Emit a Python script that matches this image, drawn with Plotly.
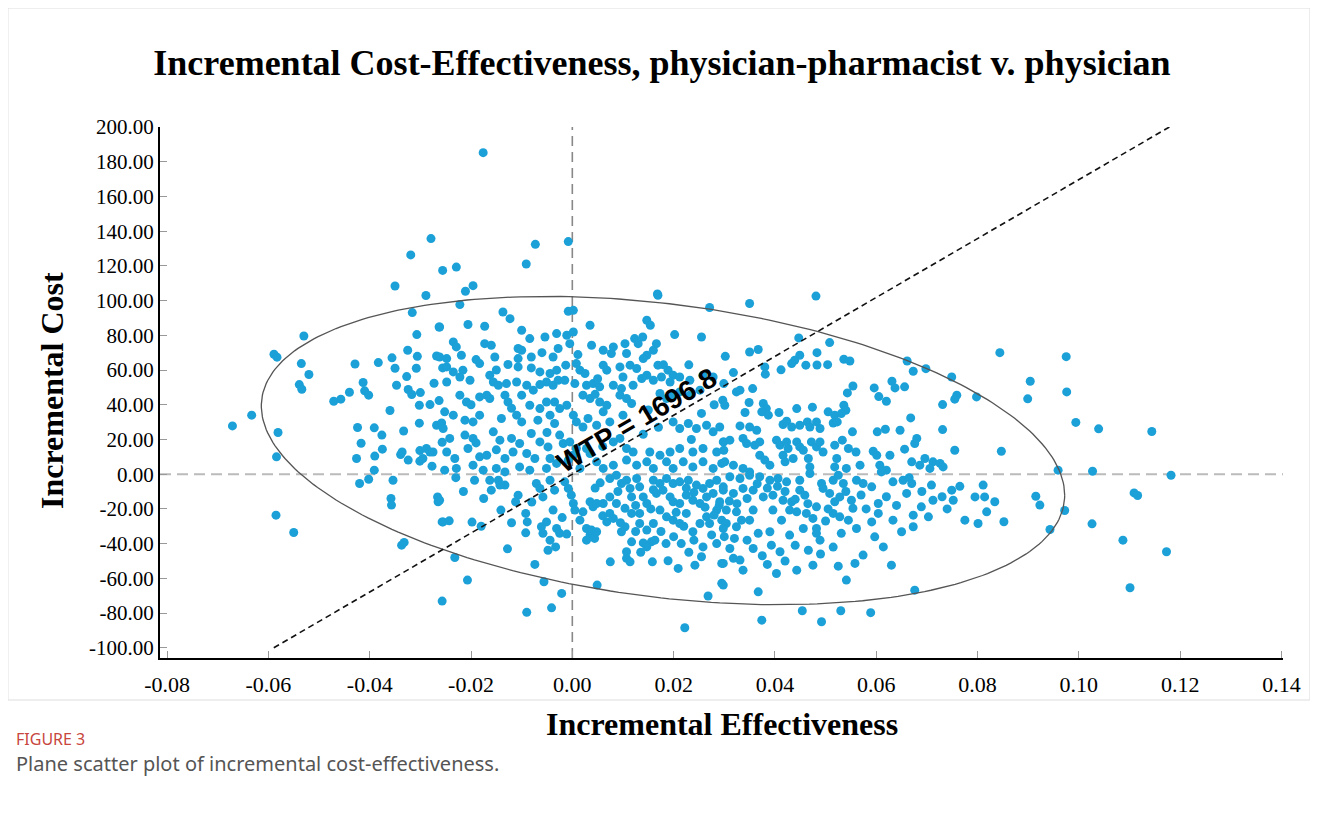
import numpy as np
import plotly.graph_objects as go

# ---------------- data ----------------
eff_top = [-0.0279, -0.0319, -0.0256, -0.0350, -0.0289, -0.0176, -0.0073, -0.0008, -0.0091, -0.0229,
           -0.0196, -0.0211, 0.0168, 0.0481, 0.0350]
cost_top = [135.7, 126.3, 117.4, 108.4, 102.9, 185.2, 132.4, 134.0, 121.1, 119.3,
            108.6, 105.4, 103.8, 102.6, 98.3]

eff_left = [-0.0316, -0.0263, -0.0530, -0.0307, -0.0589, -0.0583, -0.0325, -0.0306, -0.0268, -0.0535,
            -0.0429, -0.0383, -0.0356, -0.0350, -0.0308, -0.0256, -0.0520, -0.0327, -0.0413, -0.0539,
            -0.0534, -0.0347, -0.0273, -0.0440, -0.0410, -0.0402, -0.0324, -0.0317, -0.0300, -0.0471,
            -0.0457, -0.0302, -0.0281, -0.0263, -0.0360, -0.0633, -0.0671, -0.0302, -0.0268, -0.0258,
            -0.0424, -0.0391, -0.0376, -0.0333, -0.0581, -0.0417, -0.0257, -0.0375, -0.0339, -0.0336,
            -0.0301, -0.0288, -0.0281, -0.0275, -0.0390, -0.0324, -0.0426, -0.0584, -0.0301, -0.0295,
            -0.0277, -0.0391,
            -0.0420, -0.0402, -0.0354, -0.0358, -0.0357, -0.0266, -0.0265, -0.0257, -0.0585, -0.0550,
            -0.0337, -0.0332, -0.0257]
cost_left = [93.1, 84.8, 79.6, 80.4, 69.1, 67.4, 71.4, 67.9, 68.1, 63.7,
             63.5, 64.3, 67.0, 61.0, 61.0, 61.2, 57.4, 56.2, 52.8, 51.6,
             48.9, 51.2, 52.4, 47.2, 48.0, 45.5, 48.8, 45.9, 47.0, 42.0,
             43.2, 39.7, 40.1, 42.4, 36.7, 34.0, 27.8, 29.4, 28.2, 29.5,
             26.9, 26.7, 22.5, 24.9, 24.0, 17.8, 18.4, 14.4, 11.3, 12.8,
             13.6, 14.8, 12.8, 12.8, 10.4, 8.1, 9.0, 10.0, 7.5, 9.0,
             4.6, 2.3,
             -5.4, -2.9, -3.5, -14.0, -17.8, -13.1, -15.9, -27.5, -23.6, -33.6,
             -40.9, -39.3, -73.1]

eff_right = [0.0959, 0.1027, 0.1182, 0.0915, 0.0923, 0.1109, 0.1116, 0.0972, 0.0852, 0.0943,
             0.1026, 0.1087, 0.1173, 0.1101, 0.0844, 0.0975, 0.0904, 0.0899, 0.0976, 0.0994,
             0.1039, 0.1144, 0.0847]
cost_right = [2.3, 1.7, -0.6, -12.7, -17.8, -10.8, -12.3, -20.9, -27.4, -31.9,
              -28.6, -38.0, -44.7, -65.4, 70.0, 67.7, 53.5, 43.4, 47.4, 29.8,
              26.1, 24.6, 13.2]

eff_upper_mid = [-0.0222, -0.0137, -0.0123, -0.0008, 0.0002, 0.0169, 0.0271, -0.0262, -0.0206, -0.0173,
                 -0.0100, -0.0084, -0.0054, -0.0031, -0.0011, 0.0002, 0.0035, 0.0147, 0.0154, 0.0123,
                 0.0139, 0.0130, 0.0202, 0.0255, -0.0235, -0.0229, -0.0173, -0.0160, -0.0107, -0.0100,
                 -0.0028, -0.0005, 0.0038, 0.0081, 0.0104, 0.0166, 0.0160, 0.0147, -0.0262, -0.0248,
                 -0.0219, -0.0153, -0.0107, -0.0081, -0.0038, 0.0011, 0.0061, 0.0077, 0.0107, 0.0140,
                 -0.0248, -0.0235, -0.0216, -0.0222, -0.0183, -0.0127, -0.0107, -0.0081, -0.0064, -0.0044,
                 -0.0031, -0.0013, 0.0008, 0.0015, 0.0025, 0.0061, 0.0068, 0.0094, 0.0114, 0.0127,
                 0.0169, 0.0189, 0.0199, -0.0248, -0.0202, -0.0163, -0.0156, -0.0146, -0.0130, -0.0110,
                 -0.0090, -0.0077, -0.0064, -0.0051, -0.0038, -0.0028, -0.0015, 0.0005, 0.0028, 0.0041,
                 0.0054, 0.0081, 0.0097, 0.0120, 0.0137, 0.0147, 0.0160, 0.0176, 0.0193, 0.0212,
                 0.0232, 0.0258, 0.0278]
cost_upper_mid = [97.7, 93.4, 89.6, 93.8, 94.4, 103.1, 96.0, 84.8, 86.2, 85.2,
                  82.9, 78.1, 79.0, 81.0, 80.0, 81.9, 85.8, 88.7, 85.8, 78.1,
                  79.0, 75.2, 80.4, 79.0, 76.2, 73.3, 75.2, 74.3, 72.4, 71.4,
                  72.4, 75.2, 74.3, 73.3, 75.2, 75.2, 71.4, 68.5, 67.5, 66.6,
                  68.5, 67.5, 66.6, 67.5, 67.5, 68.9, 71.4, 69.5, 69.5, 66.6,
                  61.8, 58.9, 59.9, 56.0, 63.7, 63.2, 61.8, 61.2, 58.9, 58.0,
                  59.9, 62.8, 63.7, 59.9, 58.0, 62.8, 59.9, 61.8, 62.8, 60.9,
                  62.8, 59.9, 57.0, 53.1, 54.1, 57.0, 53.1, 51.2, 52.2, 53.1,
                  51.2, 48.4, 51.6, 53.1, 51.2, 54.1, 54.1, 52.2, 51.2, 52.2,
                  50.3, 51.2, 49.3, 51.2, 55.1, 57.0, 54.1, 56.0, 53.1, 56.0,
                  54.1, 57.0, 56.0]

eff_center = [-0.0222, -0.0209, -0.0183, -0.0169, -0.0163, -0.0133, -0.0127, -0.0100, -0.0084, -0.0064,
              -0.0051, -0.0035, -0.0025, -0.0011, 0.0021, 0.0035, 0.0054, 0.0068, 0.0094, 0.0107,
              0.0117, 0.0173, 0.0186, 0.0199, 0.0212, 0.0232, 0.0252, -0.0252, -0.0235, -0.0212,
              -0.0196, -0.0183, -0.0140, -0.0110, -0.0100, -0.0068, -0.0044, -0.0035, 0.0002, 0.0008,
              0.0021, 0.0031, 0.0048, 0.0061, 0.0074, 0.0100, 0.0199, 0.0212, 0.0229, 0.0245,
              0.0265, 0.0278, 0.0291, -0.0255, -0.0242, -0.0212, -0.0196, -0.0156, -0.0143, -0.0120,
              -0.0104, -0.0081, -0.0064, -0.0048, -0.0025, -0.0018, -0.0005, 0.0008, 0.0028, 0.0035,
              0.0081, 0.0094, 0.0107, 0.0120, 0.0153, 0.0173, 0.0193, 0.0212, 0.0238, 0.0258,
              0.0285, 0.0298, -0.0248, -0.0232, -0.0206, -0.0183, -0.0169, -0.0133, -0.0117, -0.0090,
              -0.0074, -0.0044, -0.0031, -0.0008, 0.0002, -0.0252, -0.0229, -0.0196, -0.0176, -0.0150,
              -0.0133, -0.0104, -0.0084, -0.0051, 0.0015, 0.0048, 0.0061, 0.0081, 0.0107, 0.0127,
              0.0147, 0.0160, 0.0186, 0.0199, 0.0219, 0.0238, 0.0258, 0.0278, 0.0295]
cost_center = [45.5, 41.6, 44.5, 45.5, 43.6, 45.5, 41.6, 45.5, 39.7, 37.8,
               41.6, 41.6, 37.8, 39.7, 45.5, 43.6, 41.6, 39.7, 45.5, 43.6,
               40.7, 46.5, 43.6, 45.5, 47.4, 45.5, 48.4, 35.9, 34.0, 31.1,
               30.1, 34.0, 32.1, 34.0, 30.1, 31.1, 34.0, 29.2, 34.0, 30.1,
               27.2, 32.1, 28.2, 35.9, 30.1, 34.0, 30.1, 26.3, 29.2, 26.3,
               28.2, 24.4, 27.2, 26.3, 20.6, 22.5, 20.6, 24.4, 19.6, 20.6,
               17.7, 23.4, 18.6, 15.7, 22.5, 17.7, 18.6, 14.8, 14.8, 11.9,
               18.6, 20.6, 14.8, 12.8, 12.8, 10.9, 12.8, 14.8, 12.8, 14.8,
               12.8, 18.6, 12.8, 9.0, 14.8, 10.0, 10.9, 9.0, 12.8, 11.9,
               9.0, 9.0, 6.2, 8.1, 10.9, 2.3, 3.3, 5.2, 2.3, 3.3,
               1.3, 4.2, 2.3, 3.3, 3.3, 7.1, 3.3, 5.2, 8.1, 5.2,
               7.1, 3.3, 7.1, 3.3, 7.1, 4.2, 7.1, 3.3, 6.2]

eff_upper_right = [0.0447, 0.0508, 0.0302, 0.0350, 0.0367, 0.0449, 0.0439, 0.0433, 0.0483, 0.0461,
                   0.0483, 0.0504, 0.0536, 0.0548, 0.0380, 0.0381, 0.0412, 0.0318, 0.0661, 0.0673,
                   0.0698, 0.0749, 0.0596, 0.0631, 0.0637, 0.0656, 0.0554, 0.0543, 0.0605, 0.0620,
                   0.0299, 0.0324, 0.0331, 0.0356, 0.0297, 0.0301, 0.0759, 0.0755, 0.0798, 0.0731,
                   0.0349, 0.0377, 0.0383, 0.0374, 0.0387, 0.0408, 0.0443, 0.0474, 0.0505, 0.0518,
                   0.0536, 0.0540, 0.0531, 0.0341, 0.0668, 0.0731, 0.0331, 0.0350, 0.0364, 0.0416,
                   0.0423, 0.0433, 0.0449, 0.0464, 0.0469, 0.0482, 0.0489, 0.0515, 0.0523, 0.0553,
                   0.0602, 0.0618, 0.0647, 0.0680, 0.0676, 0.0299, 0.0311, 0.0337, 0.0344, 0.0370,
                   0.0360, 0.0403, 0.0410, 0.0423, 0.0426, 0.0443, 0.0449, 0.0456, 0.0472, 0.0482,
                   0.0489, 0.0495, 0.0518, 0.0533, 0.0545, 0.0560, 0.0568, 0.0594, 0.0601, 0.0627,
                   0.0656, 0.0670, 0.0696, 0.0712, 0.0726, 0.0755, 0.0299, 0.0301, 0.0318, 0.0337,
                   0.0350, 0.0370, 0.0380, 0.0390, 0.0416, 0.0420, 0.0436, 0.0466, 0.0469, 0.0522,
                   0.0518, 0.0541, 0.0607, 0.0620, 0.0686, 0.0706, 0.0732]
cost_upper_right = [78.5, 75.8, 67.9, 70.4, 71.8, 68.5, 65.6, 63.7, 70.0, 62.8,
                    62.9, 63.1, 66.2, 65.2, 61.8, 57.6, 60.1, 58.5, 65.2, 59.3,
                    60.8, 56.0, 49.7, 53.5, 49.7, 50.3, 50.8, 46.8, 44.7, 42.0,
                    52.2, 47.4, 48.4, 49.3, 42.6, 39.7, 45.5, 43.2, 44.5, 40.1,
                    41.3, 40.7, 37.8, 35.9, 34.0, 35.5, 37.8, 38.6, 35.9, 34.0,
                    39.7, 36.8, 34.9, 35.5, 32.4, 25.7, 27.8, 27.2, 25.3, 28.6,
                    30.5, 27.2, 28.2, 30.1, 27.2, 30.1, 26.3, 29.5, 30.1, 24.4,
                    24.4, 25.9, 25.3, 20.6, 17.7, 18.6, 19.6, 20.6, 17.7, 18.6,
                    16.7, 19.6, 16.7, 18.6, 14.8, 18.6, 15.7, 13.8, 18.6, 15.7,
                    18.6, 12.8, 16.7, 19.6, 14.8, 12.8, 5.2, 13.2, 10.9, 10.9,
                    14.4, 7.1, 9.0, 7.1, 6.2, 13.8, 13.8, 7.1, 5.2, 3.3,
                    1.3, 10.9, 8.1, 5.2, 10.9, 7.1, 9.0, 9.0, 4.2, 9.0,
                    4.2, 3.3, 5.2, 2.3, 5.2, 3.3, 4.2]

eff_lower_mid = [-0.0262, -0.0255, -0.0243, -0.0198, -0.0232, -0.0207, -0.0193, -0.0163, -0.0146, -0.0133,
                 -0.0160, -0.0143, -0.0107, -0.0112, -0.0141, -0.0128, -0.0092, -0.0089, -0.0092, -0.0074,
                 -0.0071, -0.0064, -0.0058, -0.0044, -0.0035, -0.0038, -0.0051, -0.0061, -0.0058, -0.0044,
                 -0.0048, -0.0031, -0.0025, -0.0011, -0.0033, -0.0056, -0.0021, -0.0041, -0.0090, -0.0015,
                 -0.0008, -0.0002, 0.0002, 0.0005, 0.0015, 0.0021, 0.0028, 0.0035, 0.0044, 0.0038,
                 0.0048, 0.0028, 0.0049, 0.0035, 0.0041, 0.0048, 0.0068, 0.0074, 0.0081, 0.0075,
                 0.0097, 0.0104, 0.0107, 0.0114, 0.0107, 0.0117, 0.0140, 0.0156, 0.0147, 0.0163,
                 0.0158, 0.0189, 0.0209, 0.0222, 0.0074, 0.0087, 0.0097, 0.0107, 0.0114, 0.0117,
                 0.0127, 0.0133, 0.0140, 0.0147, 0.0133, 0.0117, 0.0104, 0.0087, 0.0074, 0.0061,
                 0.0160, 0.0173, 0.0186, 0.0199, 0.0212, 0.0229, 0.0245, 0.0258, 0.0271, 0.0285,
                 0.0298, 0.0166, 0.0179, 0.0193, 0.0199, 0.0212, 0.0225, 0.0238, 0.0252, 0.0265,
                 0.0278, 0.0291, 0.0173, 0.0186, 0.0199, 0.0212, 0.0225, 0.0238, 0.0252, 0.0265,
                 0.0271, 0.0285, 0.0295, 0.0258, 0.0255, 0.0242, 0.0268, 0.0295, 0.0295, 0.0147,
                 0.0160, 0.0133]
cost_lower_mid = [-15.0, -27.5, -26.9, -27.6, -48.0, -61.0, -3.5, -3.5, -3.5, -6.3,
                  -9.2, -6.3, -12.1, -15.9, -20.7, -43.0, -22.6, -27.5, -33.8, -52.0,
                  -5.4, -8.2, -13.1, -3.5, -9.2, -20.7, -27.5, -30.3, -34.1, -38.0,
                  -43.8, -31.3, -34.1, -34.5, -41.9, -62.0, -68.7, -77.0, -79.6, -4.4,
                  -8.2, -12.1, -16.9, -20.7, -26.5, -21.7, -31.3, -35.1, -37.0, -32.2,
                  -33.2, -38.0, -63.9, -15.9, -18.8, -16.9, -27.5, -22.6, -25.5, -50.5,
                  -33.2, -30.3, -48.5, -50.5, -44.7, -39.0, -39.6, -39.0, -41.9, -38.0,
                  -50.5, -49.9, -54.3, -88.5, -2.5, -0.6, -5.4, -3.5, -8.2, -13.1,
                  -2.5, -7.3, -13.1, -16.9, -22.6, -22.6, -19.7, -16.9, -13.1, -16.9,
                  -3.5, -5.4, -2.5, -5.4, -4.4, -3.5, -6.3, -8.2, -5.4, -3.5,
                  -7.3, -11.1, -9.2, -13.1, -15.9, -16.9, -12.1, -15.0, -16.9, -13.1,
                  -11.1, -15.9, -20.7, -24.6, -26.5, -28.4, -22.6, -33.2, -28.4, -24.6,
                  -28.4, -20.7, -26.5, -41.9, -47.6, -52.4, -70.2, -62.9, -51.4, -32.2,
                  -28.4, -28.4]

eff_lower_right = [0.0311, 0.0331, 0.0350, 0.0370, 0.0390, 0.0406, 0.0423, 0.0449, 0.0469, 0.0492,
                   0.0515, 0.0525, 0.0535, 0.0561, 0.0574, 0.0591, 0.0610, 0.0633, 0.0653, 0.0670,
                   0.0660, 0.0709, 0.0749, 0.0752, 0.0811, 0.0795, 0.0814, 0.0834, 0.0298, 0.0318,
                   0.0337, 0.0357, 0.0377, 0.0396, 0.0416, 0.0433, 0.0449, 0.0459, 0.0482, 0.0495,
                   0.0508, 0.0518, 0.0528, 0.0551, 0.0554, 0.0604, 0.0604, 0.0633, 0.0650, 0.0673,
                   0.0689, 0.0703, 0.0712, 0.0673, 0.0775, 0.0801, 0.0818, 0.0304, 0.0324, 0.0304,
                   0.0324, 0.0350, 0.0357, 0.0396, 0.0413, 0.0429, 0.0443, 0.0462, 0.0482, 0.0482,
                   0.0489, 0.0456, 0.0429, 0.0390, 0.0367, 0.0334, 0.0298, 0.0515, 0.0528, 0.0545,
                   0.0561, 0.0531, 0.0591, 0.0597, 0.0614, 0.0630, 0.0574, 0.0558, 0.0541, 0.0466,
                   0.0475, 0.0443, 0.0403, 0.0393, 0.0410, 0.0357, 0.0311, 0.0318, 0.0331, 0.0337,
                   0.0298, 0.0298, 0.0367, 0.0374, 0.0676, 0.0454, 0.0492, 0.0530, 0.0589]
cost_lower_right = [-1.5, -2.5, -0.6, -1.5, -3.5, -2.5, -4.4, -3.5, 0.4, -5.4,
                    -3.5, -0.6, -5.4, -3.5, -5.4, -7.3, 1.3, -4.4, -3.5, -5.4,
                    -11.1, -6.3, -9.2, -15.0, -6.3, -13.1, -13.1, -15.9, -9.2, -11.1,
                    -8.2, -9.2, -13.1, -12.1, -15.0, -15.9, -9.2, -12.1, -18.8, -8.2,
                    -11.1, -15.9, -13.1, -15.0, -19.7, -16.9, -22.6, -26.5, -33.2, -23.6,
                    -18.8, -24.6, -15.0, -30.3, -26.5, -28.4, -21.7, -20.7, -21.7, -28.4,
                    -30.3, -26.5, -20.7, -20.7, -26.5, -20.7, -21.7, -22.6, -31.3, -34.1,
                    -38.0, -31.3, -35.1, -33.2, -34.1, -26.5, -31.3, -22.6, -24.6, -26.5,
                    -31.3, -34.1, -27.5, -36.1, -41.9, -52.4, -46.6, -51.4, -61.0, -43.8,
                    -52.4, -55.3, -57.2, -40.9, -44.7, -42.8, -42.8, -48.5, -49.5, -55.3,
                    -51.4, -63.9, -67.8, -84.1, -66.8, -78.7, -85.0, -78.7, -79.8]

# overlapping dots in the densest zones (estimated)
eff_dense = [0.0225, 0.0240, 0.0262, 0.0280, 0.0290, 0.0310, 0.0325, 0.0345, 0.0365, 0.0385,
             0.0405, 0.0420, 0.0440, 0.0465, 0.0475, 0.0500, 0.0505, 0.0540, 0.0570, 0.0580,
             0.0620, 0.0640, 0.0665, 0.0690, 0.0730, 0.0740, 0.0765,
             0.0055, 0.0045, 0.0060, 0.0090, 0.0095, 0.0125, 0.0135, 0.0175, 0.0185, 0.0200,
             0.0215, 0.0230, 0.0220, 0.0240, 0.0275, 0.0285, 0.0300, 0.0320, 0.0345, 0.0375,
             0.0385, 0.0420, 0.0440, 0.0490, 0.0515, 0.0525, 0.0205, 0.0155, 0.0160, 0.0125,
             -0.0020, -0.0080, -0.0120, -0.0175, -0.0215, -0.0230, -0.0180,
             -0.0190, -0.0150, -0.0060, 0.0050, 0.0100, 0.0180, 0.0230, -0.0200, -0.0120, 0.0045,
             0.0150, 0.0170, 0.0235, 0.0255, 0.0280, -0.0050, -0.0150, -0.0190, 0.0060, 0.0140]
cost_dense = [-8.0, -10.5, -19.0, -23.5, -18.0, -15.5, -17.0, -14.0, -5.5, -8.0,
              -7.0, -10.0, -14.5, -17.0, -25.5, -27.0, -20.0, -10.0, -12.0, -20.0,
              -13.0, -18.0, -2.0, -10.0, -13.0, -20.0, -7.0,
              -5.0, -8.0, -24.0, -10.0, -28.0, -33.0, -45.0, -33.0, -40.0, -36.0,
              -40.0, -45.0, -30.0, -38.0, -35.0, -40.0, -36.0, -37.0, -38.0, -47.0,
              -52.0, -50.0, -41.0, -46.0, -42.0, -53.0, -22.0, -20.0, -9.0, -18.0,
              -25.0, -16.0, -28.0, -14.0, -10.0, -2.0, -30.0,
              66.0, 60.0, 70.0, 55.0, 56.0, 63.0, 63.0, 40.0, 38.0, 46.0,
              37.0, 27.0, 20.0, 35.0, 40.0, 24.0, 14.0, 18.0, 16.0, 23.0]

# confidence ellipse parameters (centre, x half-width, y cos/sin loadings)
ell_cx, ell_cy = 0.0179, 13.6
ell_ax = 0.0793
ell_ycos, ell_ysin = -25.7, 85.0

wtp = 1696.8
cost_range = [-100, 200]
x_ticks = [-0.08, -0.06, -0.04, -0.02, 0.0, 0.02, 0.04, 0.06, 0.08, 0.10, 0.12, 0.14]
y_ticks = [-100, -80, -60, -40, -20, 0, 20, 40, 60, 80, 100, 120, 140, 160, 180, 200]

eff = (eff_top + eff_left + eff_right + eff_upper_mid + eff_center + eff_upper_right
       + eff_lower_mid + eff_lower_right + eff_dense)
cost = (cost_top + cost_left + cost_right + cost_upper_mid + cost_center + cost_upper_right
        + cost_lower_mid + cost_lower_right + cost_dense)

# ---------------- figure ----------------
SERIF = "Liberation Serif, Times New Roman, serif"
fig = go.Figure()

fig.add_trace(go.Scatter(x=eff, y=cost, mode="markers",
                         marker=dict(color="#1ba0d7", size=9, line=dict(width=0)),
                         hoverinfo="x+y"))

t = np.linspace(0, 2 * np.pi, 300)
fig.add_trace(go.Scatter(x=ell_cx + ell_ax * np.cos(t),
                         y=ell_cy + ell_ycos * np.cos(t) + ell_ysin * np.sin(t),
                         mode="lines", line=dict(color="#555555", width=1.3), hoverinfo="skip"))

fig.add_trace(go.Scatter(x=[c / wtp for c in cost_range], y=cost_range, mode="lines",
                         line=dict(color="#111111", width=1.6, dash="6px,4px"), hoverinfo="skip"))

xr = [-0.0814, 0.1403]
yr = [-105.9, 200]

fig.add_shape(type="line", x0=0, x1=0, y0=yr[0], y1=yr[1], xref="x", yref="y",
              line=dict(color="#888888", width=1.6, dash="10px,6px"), layer="below")
fig.add_shape(type="line", x0=xr[0], x1=xr[1], y0=0, y1=0, xref="x", yref="y",
              line=dict(color="#bbbbbb", width=2, dash="11px,6px"), layer="below")

# outer frame
fig.add_shape(type="rect", xref="paper", yref="paper", x0=-0.1354, x1=1.024, y0=-0.0791, y1=1.2241,
              line=dict(color="#dddddd", width=1), layer="below")

fig.add_annotation(x=0.0126, y=31.1, xref="x", yref="y", text="<b>WTP = 1696.8</b>",
                   textangle=-30.2, showarrow=False, xanchor="center", yanchor="middle",
                   font=dict(family="Liberation Sans, Arial, sans-serif", size=28, color="black"))

fig.add_annotation(x=0.5, y=-0.1243, xref="paper", yref="paper", text="<b>Incremental Effectiveness</b>",
                   showarrow=False, xanchor="center", yanchor="middle",
                   font=dict(family=SERIF, size=32, color="black"))
fig.add_annotation(x=-0.0962, y=0.5047, xref="paper", yref="paper", text="<b>Incremental Cost</b>",
                   textangle=-90, showarrow=False, xanchor="center", yanchor="middle",
                   font=dict(family=SERIF, size=32, color="black"))

fig.add_annotation(x=-0.129, y=-0.1525, xref="paper", yref="paper", text="FIGURE 3",
                   showarrow=False, xanchor="left", yanchor="middle", borderpad=0,
                   font=dict(family="Noto Sans, sans-serif", size=16, color="#c8463d"))
fig.add_annotation(x=-0.129, y=-0.1996, xref="paper", yref="paper",
                   text="Plane scatter plot of incremental cost-effectiveness.",
                   showarrow=False, xanchor="left", yanchor="middle", borderpad=0,
                   font=dict(family="Noto Sans, sans-serif", size=20, color="#555555"))

fig.update_layout(
    width=1310, height=831,
    margin=dict(l=152, r=35, t=119, b=181),
    paper_bgcolor="white", plot_bgcolor="white",
    showlegend=False,
    title=dict(text="<b>Incremental Cost-Effectiveness, physician-pharmacist v. physician</b>",
               x=654 / 1310, xref="container", y=1 - 54 / 831, yref="container",
               xanchor="center", yanchor="middle",
               font=dict(family=SERIF, size=36, color="black")),
)
fig.update_xaxes(range=xr, tickvals=x_ticks, ticktext=[f"{v:.2f}" for v in x_ticks],
                 ticks="inside", ticklen=7, tickcolor="#999999", tickwidth=1, ticklabelstandoff=6,
                 showline=True, linecolor="black", linewidth=2, showgrid=False, zeroline=False,
                 tickfont=dict(family=SERIF, size=22, color="black"))
fig.update_yaxes(range=yr, tickvals=y_ticks, ticktext=[f"{v:.2f}" for v in y_ticks],
                 ticks="inside", ticklen=7, tickcolor="#999999", tickwidth=1,
                 showline=True, linecolor="black", linewidth=2, showgrid=False, zeroline=False,
                 tickfont=dict(family=SERIF, size=21, color="black"))

fig.write_html("out.html")
